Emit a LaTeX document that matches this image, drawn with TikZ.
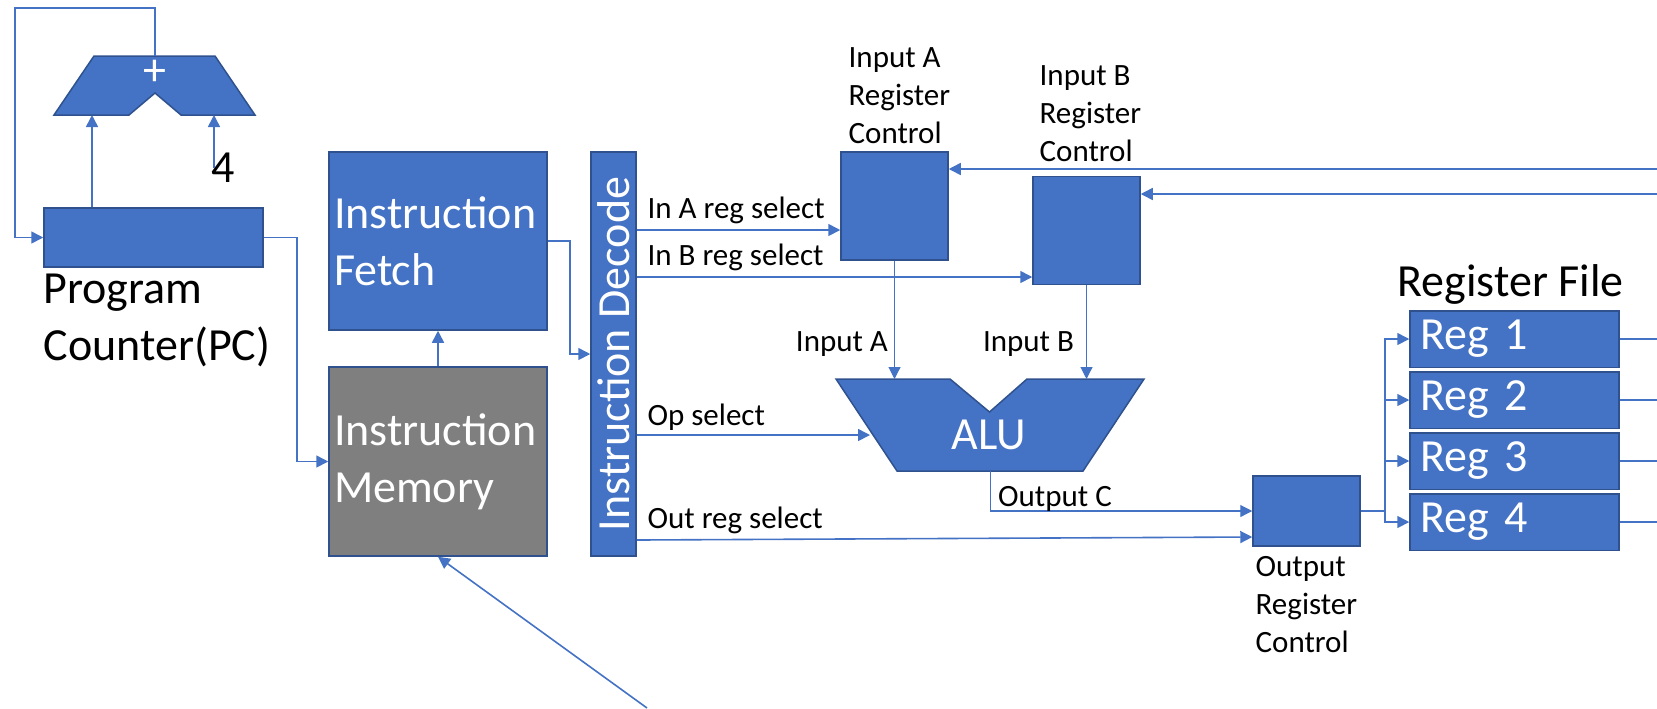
\documentclass[tikz,border=0pt]{standalone}
\usepackage{fontspec}
\setmainfont{Carlito}
\usetikzlibrary{arrows.meta,calc,positioning}
\definecolor{offblue}{HTML}{4472C4}
\definecolor{offedge}{HTML}{2F528F}
\definecolor{offgray}{HTML}{7F7F7F}
\newcommand{\cpuBig}{\fontsize{23}{28.5}\selectfont}
\newcommand{\cpuSmall}{\fontsize{15.5}{19}\selectfont}
\tikzset{/cpu/block/.style={
	rectangle, draw=offedge, line width=0.75pt, fill=offblue, inner sep=0, text=white, font=\cpuBig
}}
\tikzset{/cpu/unit/.style={
	/cpu/block, text width=104pt, inner xsep=2.5pt, align=left
}}
\tikzset{/cpu/reg/.style={
	/cpu/block, text width=94.5pt, inner xsep=5pt, minimum height=28.25pt, align=left
}}
\tikzset{/cpu/ctrl/.style={/cpu/block, minimum width=53.5pt, minimum height=54pt}}
\tikzset{/cpu/label/.style={inner sep=0, align=left, font=\cpuSmall}}
\tikzset{/cpu/title/.style={inner sep=0, align=left, font=\cpuBig}}
\tikzset{/cpu/wire/.style={draw=offblue, line width=0.8pt}}
\tikzset{/cpu/thin/.style={draw=offblue, line width=0.55pt}}

\begin{document}
\begin{tikzpicture}[x=0.5pt, y=-0.5pt, >={Triangle[length=6pt,width=6pt]}]
	\useasboundingbox (0,0) rectangle (1657,708);
	% program counter and its adder
	\node[/cpu/block, minimum width=109.5pt, minimum height=29.5pt] (PC) at (153.5,237.5) {};
	% base of a two line label is its last line
	\path (PC.south west) ++(0,-46.5pt) node[/cpu/title, anchor=base west] (PCLabel) {Program\\Counter(PC)};
	\path[fill=offblue, draw=offedge, line width=0.75pt] (54,115) -- (94,56) -- (215,56) -- (255,115) -- (181,115) -- (155,93) -- (129,115) -- cycle;
	\node[text=white, font=\cpuBig, inner sep=0] (Add) at (155,73) {+};
	\coordinate (AddOut) at (155,56);
	\coordinate (AddInA) at (92,115);
	\coordinate (AddInB) at (214,115);
	\node[/cpu/title] (Four) at (223,168) {4};
	\path[->, /cpu/wire] (AddOut) |- (15,8) |- (PC.west);
	\path[->, /cpu/wire] (PC.north -| AddInA) -- (AddInA);
	\path[->, /cpu/wire] (AddInB |- Four.center) -- (AddInB);
	% fetch, memory, decode
	\node[/cpu/unit, minimum height=89pt] (IF) at (438,241) {Instruction\\Fetch};
	\node[/cpu/unit, minimum height=94.5pt, fill=offgray] (IM) at (438,461.5) {Instruction\\Memory};
	\node[/cpu/block, rotate=90, minimum width=202pt, minimum height=22.5pt] (ID) at (613.5,354) {Instruction Decode};
	\coordinate (MemAddr) at (647,708);
	\path[->, /cpu/wire] (PC.east) -- ++(16.5pt,0) |- (IM.west);
	\path[->, /cpu/wire] (IM.north) -- (IF.south);
	\path[->, /cpu/wire] (IF.east) -- ++(11pt,0) |- (ID.north);
	\path[->, /cpu/wire] (MemAddr) -- (IM.south);
	% register controls and ALU
	\node[/cpu/ctrl] (IA) at (894.5,206) {};
	\path (IA.north west) ++(4pt,4pt) node[/cpu/label, anchor=base west] (IALabel) {Input A\\Register\\Control};
	\node[/cpu/ctrl] (IB) at (1086.5,230.5) {};
	\path (IB.north west) ++(3.5pt,7pt) node[/cpu/label, anchor=base west] (IBLabel) {Input B\\Register\\Control};
	\node[/cpu/ctrl, minimum height=35pt] (ORC) at (1306.5,511) {};
	\path (ORC.south west) ++(1.5pt,-53pt) node[/cpu/label, anchor=base west] (ORCLabel) {Output\\Register\\Control};
	\path[fill=offblue, draw=offedge, line width=0.75pt] (836,379) -- (950,379) -- (989.5,412) -- (1027,379) -- (1144,379) -- (1083,471) -- (897,471) -- cycle;
	\node[text=white, font=\cpuBig, inner sep=0] (ALU) at (989,435) {ALU};
	\coordinate (ALUop) at (870,435);
	\coordinate (ALUout) at (990.6,471);
	\path[->, /cpu/wire] (ID.south |- 0,230) -- (IA.west |- 0,230) node[pos=0, /cpu/label, anchor=base west, xshift=5pt, yshift=6pt] (SelA) {In A reg select};
	\path[->, /cpu/wire] (ID.south |- 0,277) -- (IB.west |- 0,277) node[pos=0, /cpu/label, anchor=base west, xshift=5pt, yshift=6pt] (SelB) {In B reg select};
	\path[->, /cpu/wire] (ID.south |- ALUop) -- (ALUop) node[pos=0, /cpu/label, anchor=base west, xshift=5pt, yshift=5pt] (SelOp) {Op select};
	\path[->, /cpu/wire] (ID.south |- 0,540) -- ([yshift=-13pt]ORC.west) node[pos=0, /cpu/label, anchor=base west, xshift=5pt, yshift=6pt] (SelOut) {Out reg select};
	\path[->, /cpu/thin] (IA.south) -- (IA.south |- 0,379) node[pos=0.77, /cpu/label, anchor=base east, xshift=-3pt] (InA) {Input A};
	\path[->, /cpu/thin] (IB.south) -- (IB.south |- 0,379) node[pos=0.71, /cpu/label, anchor=base east, xshift=-6pt] (InB) {Input B};
	\path[->, /cpu/thin] (ALUout) |- (ORC.west) node[pos=0.5, /cpu/label, anchor=base west, xshift=3.5pt, yshift=2.5pt] (OutC) {Output C};
	% register file
	\node[/cpu/reg] (Reg1) at (1514.5,339) {Reg 1};
	\path (Reg1.south) ++(0,-1.5pt) node[/cpu/reg, anchor=north] (Reg2) {Reg 2};
	\path (Reg2.south) ++(0,-1.5pt) node[/cpu/reg, anchor=north] (Reg3) {Reg 3};
	\path (Reg3.south) ++(0,-1.5pt) node[/cpu/reg, anchor=north] (Reg4) {Reg 4};
	\path (Reg1.north west) ++(-6pt,6.9pt) node[/cpu/title, anchor=base west] (RFLabel) {Register File};
	\path[/cpu/wire] (ORC.east) -- ++(12.25pt,0) coordinate (Split);
	\path[->, /cpu/wire] (Split) |- (Reg1.west);
	\path[->, /cpu/wire] (Split) |- (Reg2.west);
	\path[->, /cpu/wire] (Split) |- (Reg3.west);
	\path[->, /cpu/wire] (Split) |- (Reg4.west);
	\path[/cpu/thin] (Reg1.east) -- ++(20pt,0);
	\path[/cpu/thin] (Reg2.east) -- ++(20pt,0);
	\path[/cpu/thin] (Reg3.east) -- ++(20pt,0);
	\path[/cpu/wire, line width=1.2pt] (Reg4.east) -- ++(20pt,0);
	% buses coming back from the right
	\coordinate (BusA) at (1657,169);
	\coordinate (BusB) at (1657,194);
	\path[->, /cpu/wire] (BusA) -- (BusA -| IA.east);
	\path[->, /cpu/wire] (BusB) -- (BusB -| IB.east);
\end{tikzpicture}
\end{document}
